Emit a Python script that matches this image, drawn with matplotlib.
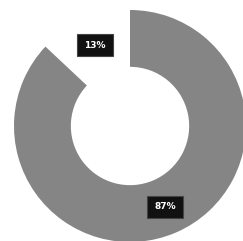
import matplotlib
matplotlib.use("Agg")
import matplotlib.pyplot as plt

labels = ["A", "B"]
values = [13, 87]
colors = ["#ffffff", "#858585"]

W, H = 243, 241
fig = plt.figure(figsize=(W / 100, H / 100), dpi=100)
ax = fig.add_axes([0, 0, 1, 1])
cx, cy, r = 130, H - 126, 116
wedges, texts, autotexts = ax.pie(
    values, colors=colors, startangle=90, counterclock=True,
    radius=r, center=(cx, cy), autopct="%d%%", pctdistance=0.76,
    wedgeprops=dict(width=r * 0.49, edgecolor="none"),
    textprops=dict(color="white", fontsize=6.5, fontweight="bold"),
)
for t in autotexts:
    t.set_bbox(dict(boxstyle="square,pad=0.75", facecolor="#111111", edgecolor="#444444", linewidth=0.8))
ax.set_xlim(0, W)
ax.set_ylim(0, H)
ax.set_aspect("auto")
ax.axis("off")
fig.savefig("out.png", dpi=100)
